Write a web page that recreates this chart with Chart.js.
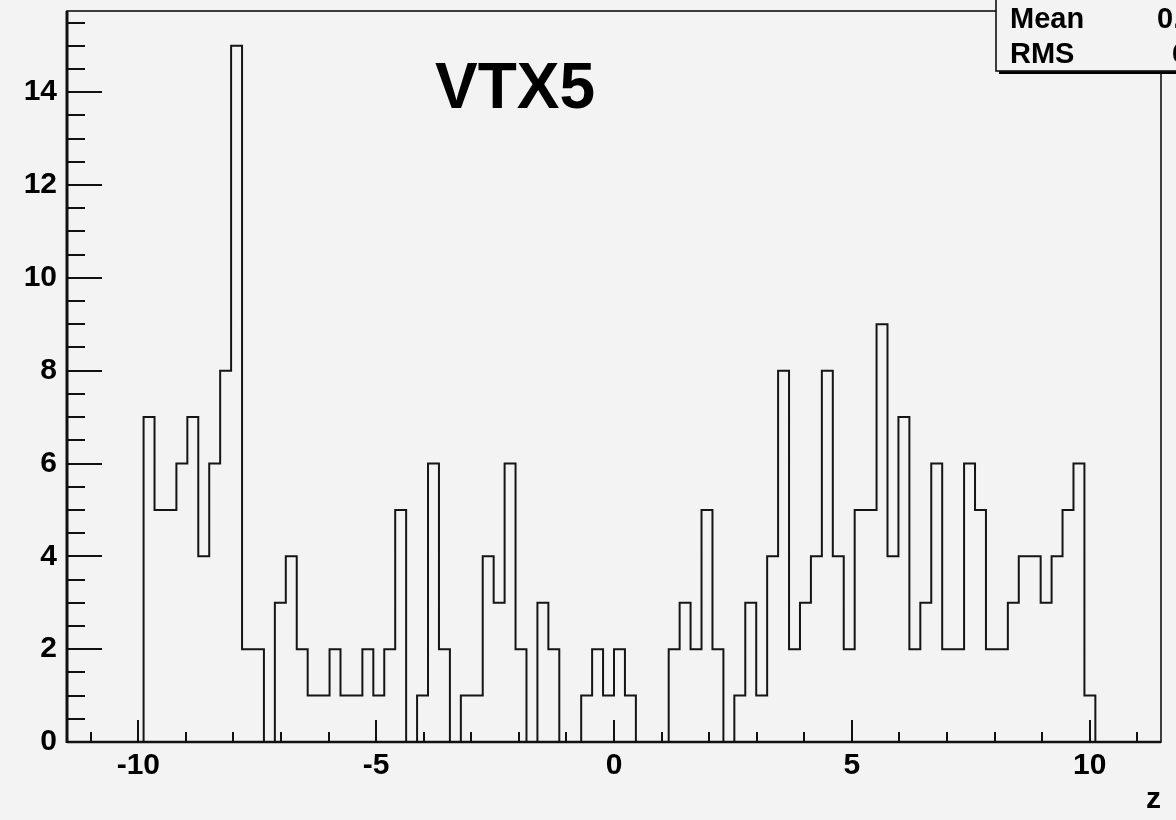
<!DOCTYPE html>
<html>
<head>
<meta charset="utf-8">
<script src="https://cdn.jsdelivr.net/npm/chart.js@4.4.1/dist/chart.umd.min.js"></script>
<style>
  html, body { margin: 0; padding: 0; background: #f3f3f3; }
  #wrap { width: 1176px; height: 820px; position: relative; overflow: hidden; }
  canvas { display: block; }
</style>
</head>
<body>
<div id="wrap"><canvas id="c" width="1176" height="820"></canvas></div>
<script>
// ---- data ----
const histTitle = "VTX5";
const xAxisTitle = "z";
const xMin = -11.5;
const xMax = 11.5;
const nBins = 100;
// bin contents, bin 0 .. bin 99
const counts = [
  0, 0, 0, 0, 0, 0, 0,
  7, 5, 5, 6, 7, 4, 6, 8, 15, 2,
  2, 0, 3, 4, 2, 1, 1, 2, 1, 1,
  2, 1, 2, 5, 0, 1, 6, 2, 0, 1,
  1, 4, 3, 6, 2, 0, 3, 2, 0, 0,
  1, 2, 1, 2, 1, 0, 0, 0, 2, 3,
  2, 5, 2, 0, 1, 3, 1, 4, 8, 2,
  3, 4, 8, 4, 2, 5, 5, 9, 4, 7,
  2, 3, 6, 2, 2, 6, 5, 2, 2, 3,
  4, 4, 3, 4, 5, 6, 1,
  0, 0, 0, 0, 0, 0
];
const xTickValues = [-10, -5, 0, 5, 10];
const yTickValues = [0, 2, 4, 6, 8, 10, 12, 14];
const yMax = 15.75;
const statsLabels = ["Mean", "RMS"];

// ---- derived ----
const binWidth = (xMax - xMin) / nBins;
const stepPoints = counts.map((v, k) => ({ x: xMin + k * binWidth, y: v }));
stepPoints.push({ x: xMax, y: 0 });

let sw = 0, swx = 0;
counts.forEach((v, k) => { const c = xMin + (k + 0.5) * binWidth; sw += v; swx += v * c; });
const mean = swx / sw;
let swd = 0;
counts.forEach((v, k) => { const c = xMin + (k + 0.5) * binWidth; swd += v * (c - mean) * (c - mean); });
const rms = Math.sqrt(swd / sw);
const statsValues = [mean.toFixed(4), rms.toFixed(3)];

const FONT = "'Liberation Sans', Arial, Helvetica, sans-serif";

const rootStyle = {
  id: 'rootStyle',
  afterDatasetsDraw(chart) {
    const ctx = chart.ctx;
    const xs = chart.scales.x, ys = chart.scales.y;
    const { left, right, top, bottom } = chart.chartArea;
    ctx.save();
    ctx.strokeStyle = '#111';
    ctx.lineWidth = 2;
    // x ticks (inside, pointing up)
    for (let v = Math.ceil(xs.min); v <= xs.max; v += 1) {
      const px = Math.round(xs.getPixelForValue(v));
      const len = (v % 5 === 0) ? 22 : 10;
      ctx.beginPath(); ctx.moveTo(px, bottom); ctx.lineTo(px, bottom - len); ctx.stroke();
    }
    // y ticks (inside, pointing right)
    for (let v = 0; v <= ys.max + 1e-9; v += 0.5) {
      const py = Math.round(ys.getPixelForValue(v));
      const len = (Math.abs(v % 2) < 1e-9) ? 35 : 18;
      ctx.beginPath(); ctx.moveTo(left, py); ctx.lineTo(left + len, py); ctx.stroke();
    }
    // frame
    ctx.lineWidth = 1.6;
    ctx.strokeRect(left, top, right - left, bottom - top);
    ctx.lineWidth = 3;
    ctx.beginPath(); ctx.moveTo(left, top); ctx.lineTo(left, bottom + 1); ctx.stroke();
    ctx.lineWidth = 2.4;
    ctx.beginPath(); ctx.moveTo(left, bottom); ctx.lineTo(right, bottom); ctx.stroke();

    // title
    ctx.fillStyle = '#000';
    ctx.font = 'bold 64px ' + FONT;
    ctx.textAlign = 'left';
    ctx.textBaseline = 'alphabetic';
    ctx.fillText(histTitle, 435, 108);

    // stats box
    const bx = 996, by = -10, bw = 200, bh = 81;
    ctx.fillStyle = '#000';
    ctx.fillRect(bx + 3, by + bh, bw, 3);
    ctx.fillStyle = '#f3f3f3';
    ctx.fillRect(bx, by, bw, bh);
    ctx.lineWidth = 1.6;
    ctx.strokeStyle = '#111';
    ctx.strokeRect(bx, by, bw, bh);
    ctx.fillStyle = '#000';
    ctx.font = 'bold 29px ' + FONT;
    ctx.fillText(statsLabels[0], 1010, 28);
    ctx.fillText(statsLabels[1], 1010, 63);
    ctx.fillText(statsValues[0], 1157, 28);
    ctx.fillText(statsValues[1], 1172, 63);
    ctx.restore();
  }
};

new Chart(document.getElementById('c'), {
  type: 'line',
  data: {
    datasets: [{
      data: stepPoints,
      stepped: 'before',
      borderColor: '#151515',
      borderWidth: 2,
      pointRadius: 0,
      fill: false,
      tension: 0
    }]
  },
  options: {
    responsive: false,
    animation: false,
    devicePixelRatio: 1,
    layout: { padding: { top: 11, right: 15, left: 0, bottom: 0 } },
    plugins: { legend: { display: false }, tooltip: { enabled: false }, title: { display: false } },
    scales: {
      x: {
        type: 'linear',
        min: xMin, max: xMax,
        afterBuildTicks(scale) { scale.ticks = xTickValues.map(v => ({ value: v })); },
        afterFit(scale) { scale.height = 78; scale.paddingLeft = 0; scale.paddingRight = 0; },
        grid: { display: false, drawTicks: false },
        border: { display: false },
        ticks: {
          padding: 6,
          color: '#000',
          font: { family: FONT, size: 30, weight: 'bold' },
          maxRotation: 0,
          autoSkip: false
        },
        title: {
          display: true,
          text: xAxisTitle,
          align: 'end',
          color: '#000',
          font: { family: FONT, size: 30, weight: 'bold' },
          padding: { top: 0, bottom: 2 }
        }
      },
      y: {
        type: 'linear',
        min: 0, max: yMax,
        afterBuildTicks(scale) { scale.ticks = yTickValues.map(v => ({ value: v })); },
        afterFit(scale) { scale.width = 67; scale.paddingTop = 0; scale.paddingBottom = 0; },
        grid: { display: false, drawTicks: false },
        border: { display: false },
        ticks: {
          padding: 10,
          color: '#000',
          font: { family: FONT, size: 30, weight: 'bold' },
          autoSkip: false
        }
      }
    }
  },
  plugins: [rootStyle]
});
</script>
</body>
</html>
